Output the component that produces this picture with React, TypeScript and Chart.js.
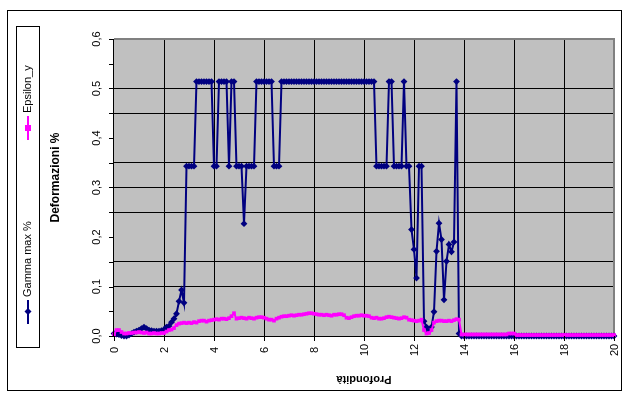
import React, { useEffect, useRef } from "react";
import { Chart, registerables } from "chart.js";

Chart.register(...registerables);

const depth = [
  0.0, 0.1, 0.2, 0.3, 0.4, 0.5, 0.6, 0.7, 0.8, 0.9,
  1.0, 1.1, 1.2, 1.3, 1.4, 1.5, 1.6, 1.7, 1.8, 1.9,
  2.0, 2.1, 2.2, 2.3, 2.4, 2.5, 2.6, 2.7, 2.8, 2.9,
  3.0, 3.1, 3.2, 3.3, 3.4, 3.5, 3.6, 3.7, 3.8, 3.9,
  4.0, 4.1, 4.2, 4.3, 4.4, 4.5, 4.6, 4.7, 4.8, 4.9,
  5.0, 5.1, 5.2, 5.3, 5.4, 5.5, 5.6, 5.7, 5.8, 5.9,
  6.0, 6.1, 6.2, 6.3, 6.4, 6.5, 6.6, 6.7, 6.8, 6.9,
  7.0, 7.1, 7.2, 7.3, 7.4, 7.5, 7.6, 7.7, 7.8, 7.9,
  8.0, 8.1, 8.2, 8.3, 8.4, 8.5, 8.6, 8.7, 8.8, 8.9,
  9.0, 9.1, 9.2, 9.3, 9.4, 9.5, 9.6, 9.7, 9.8, 9.9,
  10.0, 10.1, 10.2, 10.3, 10.4, 10.5, 10.6, 10.7, 10.8, 10.9,
  11.0, 11.1, 11.2, 11.3, 11.4, 11.5, 11.6, 11.7, 11.8, 11.9,
  12.0, 12.1, 12.2, 12.3, 12.4, 12.5, 12.6, 12.7, 12.8, 12.9,
  13.0, 13.1, 13.2, 13.3, 13.4, 13.5, 13.6, 13.7, 13.8, 13.9,
  14.0, 14.1, 14.2, 14.3, 14.4, 14.5, 14.6, 14.7, 14.8, 14.9,
  15.0, 15.1, 15.2, 15.3, 15.4, 15.5, 15.6, 15.7, 15.8, 15.9,
  16.0, 16.1, 16.2, 16.3, 16.4, 16.5, 16.6, 16.7, 16.8, 16.9,
  17.0, 17.1, 17.2, 17.3, 17.4, 17.5, 17.6, 17.7, 17.8, 17.9,
  18.0, 18.1, 18.2, 18.3, 18.4, 18.5, 18.6, 18.7, 18.8, 18.9,
  19.0, 19.1, 19.2, 19.3, 19.4, 19.5, 19.6, 19.7, 19.8, 19.9,
  20.0,
];

const gammaMax = [
  0.005, 0.004, 0.003, 0.001, 0, 0, 0.002, 0.005, 0.008, 0.01,
  0.012, 0.015, 0.018, 0.015, 0.012, 0.011, 0.01, 0.01, 0.01, 0.011,
  0.013, 0.018, 0.02, 0.028, 0.035, 0.045, 0.07, 0.093, 0.067, 0.343,
  0.343, 0.343, 0.343, 0.514, 0.514, 0.514, 0.514, 0.514, 0.514, 0.514,
  0.343, 0.343, 0.514, 0.514, 0.514, 0.514, 0.343, 0.514, 0.514, 0.343,
  0.343, 0.343, 0.227, 0.343, 0.343, 0.343, 0.343, 0.514, 0.514, 0.514,
  0.514, 0.514, 0.514, 0.514, 0.343, 0.343, 0.343, 0.514, 0.514, 0.514,
  0.514, 0.514, 0.514, 0.514, 0.514, 0.514, 0.514, 0.514, 0.514, 0.514,
  0.514, 0.514, 0.514, 0.514, 0.514, 0.514, 0.514, 0.514, 0.514, 0.514,
  0.514, 0.514, 0.514, 0.514, 0.514, 0.514, 0.514, 0.514, 0.514, 0.514,
  0.514, 0.514, 0.514, 0.514, 0.514, 0.343, 0.343, 0.343, 0.343, 0.343,
  0.514, 0.514, 0.343, 0.343, 0.343, 0.343, 0.514, 0.343, 0.343, 0.215,
  0.175, 0.117, 0.343, 0.343, 0.03, 0.018, 0.01, 0.018, 0.049, 0.171,
  0.228, 0.195, 0.073, 0.151, 0.185, 0.17, 0.19, 0.514, 0.005, 0,
  0, 0, 0, 0, 0, 0, 0, 0, 0, 0,
  0, 0, 0, 0, 0, 0, 0, 0, 0, 0,
  0, 0, 0, 0, 0, 0, 0, 0, 0, 0,
  0, 0, 0, 0, 0, 0, 0, 0, 0, 0,
  0, 0, 0, 0, 0, 0, 0, 0, 0, 0,
  0, 0, 0, 0, 0, 0, 0, 0, 0, 0,
  0,
];

const epsilonY = [
  0.003, 0.012, 0.012, 0.008, 0.005, 0.005, 0.006, 0.006, 0.007, 0.007,
  0.008, 0.007, 0.006, 0.007, 0.005, 0.005, 0.006, 0.005, 0.005, 0.006,
  0.006, 0.009, 0.012, 0.013, 0.016, 0.022, 0.025, 0.026, 0.027, 0.026,
  0.027, 0.026, 0.028, 0.027, 0.03, 0.031, 0.031, 0.029, 0.031, 0.032,
  0.033, 0.034, 0.033, 0.035, 0.035, 0.034, 0.036, 0.04, 0.046, 0.035,
  0.036, 0.037, 0.036, 0.035, 0.037, 0.036, 0.035, 0.037, 0.038, 0.038,
  0.037, 0.035, 0.033, 0.033, 0.031, 0.035, 0.037, 0.039, 0.04, 0.04,
  0.041, 0.042, 0.041, 0.042, 0.043, 0.043, 0.044, 0.045, 0.046, 0.046,
  0.045, 0.044, 0.043, 0.043, 0.042, 0.043, 0.042, 0.041, 0.043, 0.043,
  0.044, 0.044, 0.042, 0.037, 0.036, 0.038, 0.04, 0.041, 0.041, 0.042,
  0.041, 0.041, 0.04, 0.037, 0.036, 0.037, 0.035, 0.035, 0.036, 0.038,
  0.039, 0.038, 0.037, 0.036, 0.035, 0.036, 0.038, 0.037, 0.033, 0.032,
  0.031, 0.03, 0.031, 0.033, 0.012, 0.005, 0.006, 0.012, 0.027, 0.03,
  0.031, 0.031, 0.03, 0.03, 0.031, 0.03, 0.032, 0.034, 0.033, 0.003,
  0.003, 0.003, 0.003, 0.003, 0.003, 0.003, 0.003, 0.003, 0.003, 0.003,
  0.003, 0.003, 0.003, 0.003, 0.003, 0.003, 0.003, 0.003, 0.005, 0.005,
  0.005, 0.002, 0.002, 0.002, 0.002, 0.002, 0.002, 0.002, 0.002, 0.002,
  0.002, 0.002, 0.002, 0.002, 0.002, 0.002, 0.002, 0.002, 0.002, 0.002,
  0.002, 0.002, 0.002, 0.002, 0.002, 0.002, 0.002, 0.002, 0.002, 0.002,
  0.002, 0.002, 0.002, 0.002, 0.002, 0.002, 0.002, 0.002, 0.002, 0.002,
  0.002,
];

const xTickValues = [0, 2, 4, 6, 8, 10, 12, 14, 16, 18, 20];
const xTickLabels = ["0", "2", "4", "6", "8", "10", "12", "14", "16", "18", "20"];
const yTickValues = [0, 0.1, 0.2, 0.3, 0.4, 0.5, 0.6];
const yTickLabels = ["0,0", "0,1", "0,2", "0,3", "0,4", "0,5", "0,6"];
// horizontal gridlines that are visible in the reference
const yGridValues = [0.1, 0.15, 0.25, 0.3, 0.35, 0.45, 0.5];

const seriesNames = ["Gamma max %", "Epsilon_y"];
const xTitle = "Profondità";
const yTitle = "Deformazioni %";

const NAVY = "#000080";
const MAGENTA = "#FF00FF";
const FONT = "'Liberation Sans', Arial, sans-serif";

function rotText(
  ctx: CanvasRenderingContext2D,
  text: string,
  x: number,
  y: number,
  angle: number,
  font: string,
  align: CanvasTextAlign,
  baseline: CanvasTextBaseline
) {
  ctx.save();
  ctx.translate(x, y);
  ctx.rotate(angle);
  ctx.font = font;
  ctx.fillStyle = "#000";
  ctx.textAlign = align;
  ctx.textBaseline = baseline;
  ctx.fillText(text, 0, 0);
  ctx.restore();
}

const decorPlugin = {
  id: "decor",
  beforeDraw(chart: any) {
    const { ctx, chartArea: a } = chart;
    ctx.save();
    ctx.fillStyle = "#FFFFFF";
    ctx.fillRect(0, 0, chart.width, chart.height);
    ctx.strokeStyle = "#000";
    ctx.lineWidth = 1;
    ctx.strokeRect(7.5, 10.5, 614, 380);
    ctx.fillStyle = "#C0C0C0";
    ctx.fillRect(a.left, a.top, a.right - a.left, a.bottom - a.top);
    ctx.restore();
  },
  beforeDatasetsDraw(chart: any) {
    const { ctx, chartArea: a } = chart;
    ctx.save();
    ctx.strokeStyle = "#808080";
    ctx.lineWidth = 2;
    ctx.beginPath();
    ctx.moveTo(a.left, a.top);
    ctx.lineTo(a.right, a.top);
    ctx.lineTo(a.right, a.bottom);
    ctx.stroke();
    ctx.restore();
  },
  afterDraw(chart: any) {
    const { ctx, chartArea: a } = chart;
    const xs = chart.scales.x;
    const ys = chart.scales.y;
    ctx.save();
    ctx.strokeStyle = "#000";
    ctx.lineWidth = 1;
    ctx.beginPath();
    ctx.moveTo(a.left - 0.5, a.top);
    ctx.lineTo(a.left - 0.5, a.bottom);
    ctx.stroke();
    for (let k = 0; k <= 12; k++) {
      const py = Math.round(ys.getPixelForValue(k * 0.05)) + 0.5;
      ctx.beginPath();
      ctx.moveTo(a.left - 5, py);
      ctx.lineTo(a.left, py);
      ctx.stroke();
    }
    yTickValues.forEach((v, i) => {
      const py = ys.getPixelForValue(v);
      rotText(ctx, yTickLabels[i], 97, py, -Math.PI / 2, `11px ${FONT}`, "center", "middle");
    });
    xTickValues.forEach((v, i) => {
      const px = Math.round(xs.getPixelForValue(v)) + 0.5;
      ctx.beginPath();
      ctx.moveTo(px, a.bottom);
      ctx.lineTo(px, a.bottom + 5);
      ctx.stroke();
      rotText(ctx, xTickLabels[i], px, a.bottom + 14, -Math.PI / 2, `11px ${FONT}`, "center", "middle");
    });
    rotText(ctx, yTitle, 56, (a.top + a.bottom) / 2 - 10, -Math.PI / 2, `bold 12px ${FONT}`, "center", "middle");
    rotText(ctx, xTitle, (a.left + a.right) / 2, 379, Math.PI, `bold 11px ${FONT}`, "center", "middle");
    // legend
    ctx.strokeStyle = "#000";
    ctx.lineWidth = 1;
    ctx.strokeRect(16.5, 26.5, 23, 321);
    ctx.strokeStyle = NAVY;
    ctx.lineWidth = 2;
    ctx.beginPath();
    ctx.moveTo(28, 324);
    ctx.lineTo(28, 300);
    ctx.stroke();
    ctx.fillStyle = NAVY;
    ctx.beginPath();
    ctx.moveTo(28, 308);
    ctx.lineTo(31.5, 311.5);
    ctx.lineTo(28, 315);
    ctx.lineTo(24.5, 311.5);
    ctx.closePath();
    ctx.fill();
    rotText(ctx, seriesNames[0], 28, 297, -Math.PI / 2, `11px ${FONT}`, "left", "middle");
    ctx.strokeStyle = MAGENTA;
    ctx.beginPath();
    ctx.moveTo(28, 140);
    ctx.lineTo(28, 116);
    ctx.stroke();
    ctx.fillStyle = MAGENTA;
    ctx.fillRect(25, 125, 6, 6);
    rotText(ctx, seriesNames[1], 28, 113, -Math.PI / 2, `11px ${FONT}`, "left", "middle");
    ctx.restore();
  },
};

export default function App() {
  const ref = useRef<HTMLCanvasElement | null>(null);
  useEffect(() => {
    if (!ref.current) return;
    const chart = new Chart(ref.current, {
      type: "line",
      data: {
        datasets: [
          {
            label: seriesNames[1],
            data: depth.map((d, i) => ({ x: d, y: epsilonY[i] })),
            borderColor: MAGENTA,
            backgroundColor: MAGENTA,
            borderWidth: 2,
            pointStyle: "rect",
            pointRadius: 2.6,
            pointBorderWidth: 0,
            tension: 0,
            clip: false as any,
            order: 0,
          },
          {
            label: seriesNames[0],
            data: depth.map((d, i) => ({ x: d, y: gammaMax[i] })),
            borderColor: NAVY,
            backgroundColor: NAVY,
            borderWidth: 2,
            pointStyle: "rectRot",
            pointRadius: 3.4,
            pointBorderWidth: 0,
            tension: 0,
            clip: false as any,
            order: 1,
          },
        ],
      },
      options: {
        animation: false,
        responsive: false,
        devicePixelRatio: 1,
        layout: { padding: { left: 114, top: 39, right: 14, bottom: 60 } },
        plugins: { legend: { display: false }, tooltip: { enabled: false } },
        scales: {
          x: {
            type: "linear",
            min: 0,
            max: 20,
            ticks: { display: false, stepSize: 2 },
            grid: {
              color: (c: any) => (c.tick && (c.tick.value === 0 || c.tick.value === 20) ? "rgba(0,0,0,0)" : "#000"),
              lineWidth: 1,
              drawTicks: false,
            },
            border: { display: true, color: "#000", width: 1 },
            afterFit: (s: any) => {
              s.height = 0;
            },
          },
          y: {
            type: "linear",
            min: 0,
            max: 0.6,
            ticks: { display: false, stepSize: 0.05 },
            grid: {
              color: (c: any) =>
                c.tick && yGridValues.some((g) => Math.abs(g - c.tick.value) < 0.001) ? "#000" : "rgba(0,0,0,0)",
              lineWidth: 1,
              drawTicks: false,
            },
            border: { display: false },
            afterFit: (s: any) => {
              s.width = 0;
            },
          },
        },
      },
      plugins: [decorPlugin],
    });
    return () => chart.destroy();
  }, []);
  return (
    <div style={{ position: "absolute", left: 0, top: 0, width: 628, height: 396 }}>
      <canvas ref={ref} width={628} height={396} style={{ display: "block", width: 628, height: 396 }} />
    </div>
  );
}
